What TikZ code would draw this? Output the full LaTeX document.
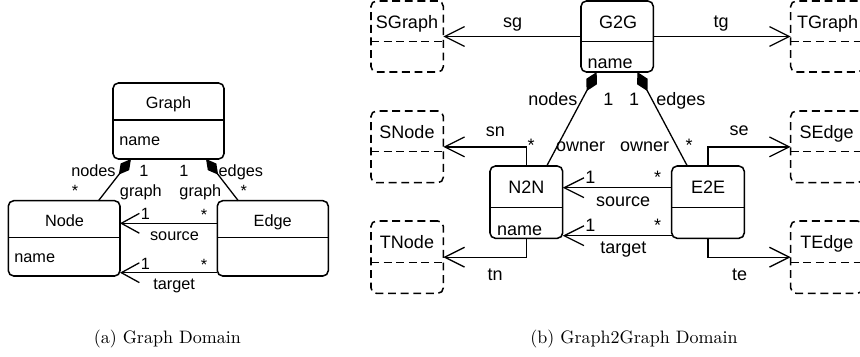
\documentclass[tikz,border=0pt]{standalone}
\usepackage{fontspec}
\newfontfamily\arialfam{Liberation Sans}
\usetikzlibrary{arrows.meta,fit,calc}
\newcommand\fontA{\arialfam\fontsize{9.05}{10}\selectfont}
\newcommand\fontB{\arialfam\fontsize{10}{11}\selectfont}
\tikzset{
  umlbox/.style={draw, line width=0.85pt, rounded corners=3pt, inner sep=0pt, outer sep=0pt},
  dbox/.style={umlbox, dash pattern=on 4.4pt off 2.6pt},
  divl/.style={line width=0.85pt},
  ddivl/.style={line width=0.85pt, dash pattern=on 4.4pt off 2.6pt},
  conn/.style={line width=0.72pt},
  ta/.style={inner sep=0pt, anchor=base, font=\fontA},
  tb/.style={inner sep=0pt, anchor=base, font=\fontB},
  capt/.style={inner sep=0pt, anchor=base},
  openA/.style={conn, -{Straight Barb[length=10pt,width=11pt]}},
  openB/.style={conn, -{Straight Barb[length=11pt,width=11pt]}},
  compA/.style={conn, -{Diamond[length=11pt,width=6pt]}},
  compB/.style={conn, -{Diamond[length=12pt,width=6.6pt]}},
}
\begin{document}
\begin{tikzpicture}[x=0.5556pt,y=-0.5556pt]
\clip (0,0) rectangle (860,356);
% ---------------- (a) ----------------
\node[umlbox, fit={(113,83) (224,159)}] (graph) {};
\node[umlbox, fit={(8.3,200.7) (120,276)}] (node) {};
\node[umlbox, fit={(217.3,200.7) (328.3,276)}] (edge) {};
\coordinate (ya1) at (0,120);
\coordinate (ya2) at (0,237.5);
\draw[divl] (graph.west |- ya1) -- (graph.east |- ya1);
\draw[divl] (node.west |- ya2) -- (node.east |- ya2);
\draw[divl] (edge.west |- ya2) -- (edge.east |- ya2);

\node[ta] (tgraph) at (168.5,108) {Graph};
\node[ta, anchor=base west] (tgname) at (119,145) {name};
\node[ta] (tnode) at (64.5,226) {Node};
\node[ta] (tedge) at (272.7,226) {Edge};
\node[ta, anchor=base west] (tnname) at (14,262) {name};

\draw[compA] ($(node.north west)!0.8075!(node.north east)$) -- ($(graph.south west)!0.162!(graph.south east)$);
\draw[compA] ($(edge.north west)!0.189!(edge.north east)$) -- ($(graph.south west)!0.838!(graph.south east)$);
\draw[openA] ($(edge.north west)!0.30!(edge.south west)$) -- ($(node.north east)!0.30!(node.south east)$);
\draw[openA] ($(edge.north west)!0.956!(edge.south west)$) -- ($(node.north east)!0.956!(node.south east)$);

\node[ta, anchor=base east] (lnodes) at (116,176) {nodes};
\node[ta] (lone1) at (144,176) {1};
\node[ta] (lone2) at (184,176) {1};
\node[ta, anchor=base west] (ledges) at (218.3,176) {edges};
\node[ta] (lstar1) at (75,196.4) {*};
\node[ta] (lgraph1) at (140.8,196) {graph};
\node[ta] (lgraph2) at (200.3,196) {graph};
\node[ta] (lstar2) at (243.7,196.4) {*};
\node[ta] (lsrc1) at (145.5,219.5) {1};
\node[ta] (lsrcs) at (204,220.5) {*};
\node[ta] (lsrc) at (174.5,240) {source};
\node[ta] (ltgt1) at (145.5,269.3) {1};
\node[ta] (ltgts) at (204,270.3) {*};
\node[ta] (ltgt) at (174.2,289.5) {target};

% ---------------- (b) ----------------
\node[umlbox, fit={(581,1) (653.3,72)}] (g2g) {};
\node[dbox, fit={(371,1) (443.3,72)}] (sgraph) {};
\node[dbox, fit={(790.7,1) (863,72)}] (tgraph) {};
\node[dbox, fit={(371,111) (443.3,182.7)}] (snode) {};
\node[dbox, fit={(371,221) (443.3,293.3)}] (tnode) {};
\node[dbox, fit={(790.7,111) (863,182.7)}] (sedge) {};
\node[dbox, fit={(790.7,221) (863,293.3)}] (tedge) {};
\node[umlbox, fit={(490,166) (562.7,238.3)}] (n2n) {};
\node[umlbox, fit={(671.7,166) (744.3,238.3)}] (e2e) {};
\coordinate (yb1) at (0,41.7);
\coordinate (yb2) at (0,151.7);
\coordinate (yb3) at (0,262.7);
\coordinate (yb4) at (0,207.7);
\draw[divl] (g2g.west |- yb1) -- (g2g.east |- yb1);
\draw[ddivl] (sgraph.west |- yb1) -- (sgraph.east |- yb1);
\draw[ddivl] (tgraph.west |- yb1) -- (tgraph.east |- yb1);
\draw[ddivl] (snode.west |- yb2) -- (snode.east |- yb2);
\draw[ddivl] (sedge.west |- yb2) -- (sedge.east |- yb2);
\draw[ddivl] (tnode.west |- yb3) -- (tnode.east |- yb3);
\draw[ddivl] (tedge.west |- yb3) -- (tedge.east |- yb3);
\draw[divl] (n2n.west |- yb4) -- (n2n.east |- yb4);
\draw[divl] (e2e.west |- yb4) -- (e2e.east |- yb4);

\node[tb] (tg2g) at (618,28.3) {G2G};
\node[tb, anchor=base west] (tgname2) at (587.3,68.3) {name};
\node[tb] (tsgraph) at (407,28.3) {SGraph};
\node[tb, anchor=base west] (ttgraph) at (796.7,28.3) {TGraph};
\node[tb] (tsnode) at (407,138.3) {SNode};
\node[tb, anchor=base west] (tsedge) at (799.3,138.3) {SEdge};
\node[tb] (ttnode) at (407,248.3) {TNode};
\node[tb, anchor=base west] (ttedge) at (800,248.3) {TEdge};
\node[tb] (tn2n) at (526.4,193.3) {N2N};
\node[tb] (te2e) at (708,193.3) {E2E};
\node[tb, anchor=base west] (tnname2) at (496.7,235) {name};

\draw[openB] (g2g.west |- sgraph.east) -- (sgraph.east);
\draw[openB] (g2g.east |- tgraph.west) -- (tgraph.west);
\draw[compB] ($(n2n.north west)!0.78!(n2n.north east)$) -- ($(g2g.south west)!0.217!(g2g.south east)$);
\draw[compB] ($(e2e.north west)!0.215!(e2e.north east)$) -- ($(g2g.south west)!0.779!(g2g.south east)$);
\draw[openB] (n2n.north) |- (snode.east);
\draw[openB] (n2n.south) |- (tnode.east);
\draw[openB] (e2e.north) |- (sedge.west);
\draw[openB] (e2e.south) |- (tedge.west);
\draw[openB] ($(e2e.north west)!0.30!(e2e.south west)$) -- ($(n2n.north east)!0.30!(n2n.south east)$);
\draw[openB] ($(e2e.north west)!0.964!(e2e.south west)$) -- ($(n2n.north east)!0.964!(n2n.south east)$);

\node[tb] (lsg) at (512.5,27) {sg};
\node[tb] (ltg) at (721,27) {tg};
\node[tb, anchor=base east] (lnodes2) at (577.7,105) {nodes};
\node[tb] (lone3) at (608.3,105) {1};
\node[tb] (lone4) at (634.2,105) {1};
\node[tb, anchor=base west] (ledges2) at (656,105) {edges};
\node[tb] (lsn) at (495.3,136) {sn};
\node[tb] (lstar3) at (531,151.5) {*};
\node[tb] (lowner1) at (580.5,151.7) {owner};
\node[tb] (lowner2) at (644.5,151.7) {owner};
\node[tb] (lstar4) at (689,151.5) {*};
\node[tb] (lse) at (739,135) {se};
\node[tb] (lsrc1b) at (590.3,183.5) {1};
\node[tb] (lsrcsb) at (657.5,183.5) {*};
\node[tb] (lsrcb) at (623,206.7) {source};
\node[tb] (ltgt1b) at (590.3,231.7) {1};
\node[tb] (ltgtsb) at (657.5,231) {*};
\node[tb] (ltgtb) at (623.3,253.3) {target};
\node[tb] (ltn) at (495,280) {tn};
\node[tb] (lte) at (739.5,280) {te};

% captions
\node[capt] (capa) at (167.3,343) {(a) Graph Domain};
\node[capt] (capb) at (634,343) {(b) Graph2Graph Domain};
\end{tikzpicture}
\end{document}
